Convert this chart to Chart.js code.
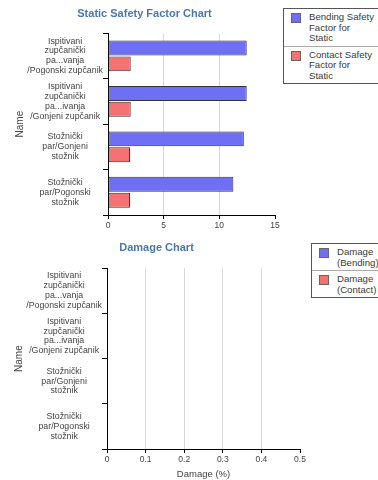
<!DOCTYPE html>
<html>
<head>
<meta charset="utf-8">
<script src="https://cdn.jsdelivr.net/npm/chart.js@4"></script>
<style>
  body { margin: 0; background: #fff; width: 378px; height: 480px; overflow: hidden; position: relative; font-family: "Liberation Sans", Arial, sans-serif; }
  .box { position: absolute; }
  .legend { position: absolute; background: #fff; border: 1px solid #555; font-size: 9.6px; color: #3a3a3a; line-height: 10.5px; }
  .legend .item { display: flex; padding: 3px 4px 2px 7px; }
  .legend .item + .item { border-top: 1px solid #aaa; }
  .legend .sw { width: 10px; height: 10px; margin-top: 1px; margin-right: 8px; flex: none; box-sizing: border-box; border: 1px solid #666; }
</style>
</head>
<body>
<div class="box" style="left:0;top:0;width:289px;height:235px"><canvas id="staticChart" width="289" height="235"></canvas></div>
<div class="box" style="left:0;top:230px;width:313px;height:250px"><canvas id="damageChart" width="313" height="250"></canvas></div>
<div class="legend" id="staticLegend" style="left:283px;top:8px;width:100px"></div>
<div class="legend" id="damageLegend" style="left:311px;top:243px;width:70px"></div>
<script>
// Data
const names = [
    ['Ispitivani', 'zupčanički', 'pa...vanja', '/Pogonski zupčanik'],
    ['Ispitivani', 'zupčanički', 'pa...ivanja', '/Gonjeni zupčanik'],
    ['Stožnički', 'par/Gonjeni', 'stožnik'],
    ['Stožnički', 'par/Pogonski', 'stožnik'],
];
const bendingSafety = [12.46, 12.46, 12.2, 11.26];
const contactSafety = [2.04, 2.04, 1.98, 1.98];
const damageBending = [0, 0, 0, 0];
const damageContact = [0, 0, 0, 0];

const staticLabels = [['Bending Safety', 'Factor for', 'Static'], ['Contact Safety', 'Factor for', 'Static']];
const damageLabels = [['Damage', '(Bending)'], ['Damage', '(Contact)']];

const blue = '#6f6ff4';
const red = '#f47272';
const edge = '#333333';
const titleColor = '#4a78b0';
const textColor = '#444444';

function makeChart(id, opts) {
    const ctx = document.getElementById(id).getContext('2d');
    return new Chart(ctx, {
        type: 'bar',
        data: {
            labels: names,
            datasets: [{
                label: opts.labels[0].join(' '),
                data: opts.first,
                backgroundColor: blue,
                borderColor: edge,
                borderWidth: opts.border,
                borderSkipped: false,
                categoryPercentage: 0.7,
                barPercentage: 0.94,
            }, {
                label: opts.labels[1].join(' '),
                data: opts.second,
                backgroundColor: red,
                borderColor: edge,
                borderWidth: opts.border,
                borderSkipped: false,
                categoryPercentage: 0.7,
                barPercentage: 0.94,
            }],
        },
        options: {
            indexAxis: 'y',
            responsive: false,
            animation: false,
            // left padding shifts the chart title centre, y axis width makes up the rest
            layout: { padding: { left: opts.padLeft, right: opts.right, top: 0, bottom: 0 } },
            scales: {
                x: {
                    min: 0,
                    max: opts.max,
                    ticks: { stepSize: opts.step, color: textColor, font: { size: 8.5 }, padding: 2 },
                    grid: {
                        color: (c) => (c.index === 0 || c.tick && c.tick.value === opts.max) ? 'rgba(0,0,0,0)' : '#d8d8d8',
                        tickColor: '#000',
                        tickLength: 4,
                    },
                    border: { color: '#000' },
                    title: { display: !!opts.xTitle, text: opts.xTitle, color: textColor, font: { size: 9.5 }, padding: { top: 2, bottom: 0 } },
                    afterFit: (s) => { s.height = opts.xHeight; },
                },
                y: {
                    ticks: { color: textColor, font: { size: 8.8, lineHeight: 1.12 }, crossAlign: 'center', padding: 0, autoSkip: false },
                    grid: { drawOnChartArea: false, color: '#000', tickLength: 5 },
                    border: { color: '#000' },
                    title: { display: true, text: 'Name', color: textColor, font: { size: 10 }, padding: { top: 0, bottom: 0 } },
                    afterFit: (s) => { s.width = opts.left - opts.padLeft; },
                },
            },
            plugins: {
                legend: { display: false },
                tooltip: { enabled: false },
                title: {
                    display: true,
                    text: opts.title,
                    color: titleColor,
                    font: { size: 11, weight: 'bold' },
                    padding: opts.titlePad,
                },
            },
        },
    });
}

function makeLegend(id, labels) {
    const colors = [blue, red];
    document.getElementById(id).innerHTML = labels.map((l, i) =>
        '<div class="item"><div class="sw" style="background:' + colors[i] + '"></div><div>' + l.join('<br>') + '</div></div>'
    ).join('');
}

makeChart('staticChart', {
    title: 'Static Safety Factor Chart',
    first: bendingSafety, second: contactSafety,
    labels: staticLabels,
    max: 15, step: 5, border: 1,
    left: 108, padLeft: 14, right: 14, xHeight: 20,
    titlePad: { top: 7, bottom: 13 },
});
makeChart('damageChart', {
    title: 'Damage Chart',
    first: damageBending, second: damageContact,
    labels: damageLabels,
    max: 0.5, step: 0.1, border: 0,
    left: 107, padLeft: 13, right: 13, xHeight: 31, xTitle: 'Damage (%)',
    titlePad: { top: 11, bottom: 14 },
});
makeLegend('staticLegend', staticLabels);
makeLegend('damageLegend', damageLabels);
</script>
</body>
</html>
